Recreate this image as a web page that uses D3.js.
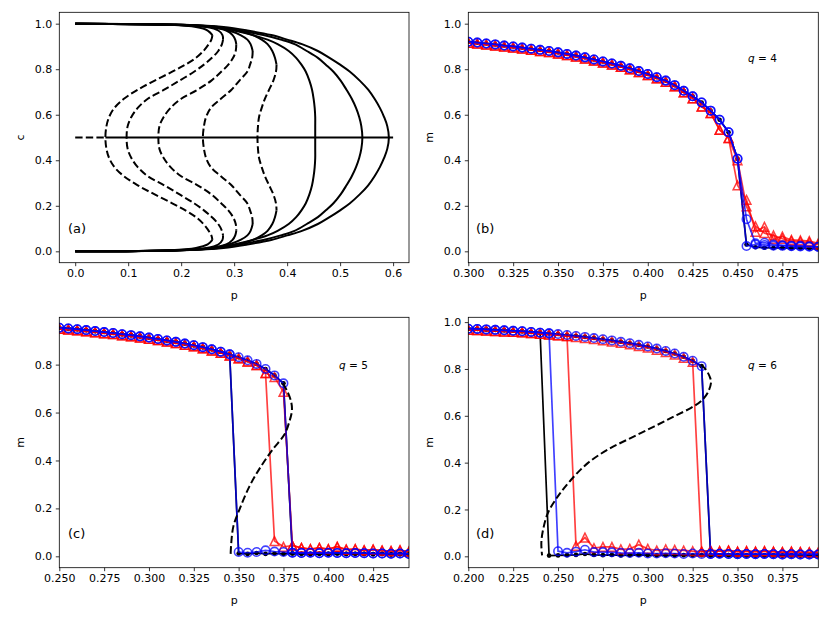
<!DOCTYPE html>
<head>
<meta charset="utf-8">
<script src="https://d3js.org/d3.v7.min.js"></script>
<style>body { margin: 0; background: #fff; }</style>
</head>
<body>
<svg width="830" height="623" font-family="DejaVu Sans" font-size="11"></svg>
<script>

// ---------- panel (a): c vs p, one curve per q ----------
let cLevels = [1.0, 0.995, 0.985, 0.97, 0.95, 0.93, 0.91, 0.88, 0.85, 0.82, 0.79, 0.75, 0.71, 0.67, 0.63, 0.59, 0.55, 0.5,
               0.45, 0.41, 0.37, 0.33, 0.29, 0.25, 0.21, 0.18, 0.15, 0.12, 0.09, 0.07, 0.05, 0.03, 0.015, 0.005, 0.0];
let pCurve1 = [0, 0.18, 0.228, 0.25, 0.259, 0.257, 0.252, 0.242, 0.228, 0.208, 0.184, 0.150, 0.118, 0.092, 0.074, 0.064, 0.059, 0.057,
               0.059, 0.064, 0.074, 0.092, 0.118, 0.150, 0.184, 0.208, 0.228, 0.242, 0.252, 0.257, 0.259, 0.25, 0.228, 0.18, 0];
let pCurve2 = [0, 0.19, 0.248, 0.27, 0.278, 0.279, 0.277, 0.270, 0.258, 0.243, 0.225, 0.197, 0.168, 0.137, 0.118, 0.106, 0.099, 0.097,
               0.099, 0.106, 0.118, 0.137, 0.168, 0.197, 0.225, 0.243, 0.258, 0.270, 0.277, 0.279, 0.278, 0.27, 0.248, 0.19, 0];
let pCurve3 = [0, 0.19, 0.255, 0.285, 0.297, 0.302, 0.304, 0.303, 0.298, 0.289, 0.276, 0.257, 0.231, 0.200, 0.180, 0.167, 0.159, 0.157,
               0.159, 0.167, 0.180, 0.200, 0.231, 0.257, 0.276, 0.289, 0.298, 0.303, 0.304, 0.302, 0.297, 0.285, 0.255, 0.19, 0];
let pCurve4 = [0, 0.19, 0.26, 0.29, 0.312, 0.325, 0.331, 0.335, 0.334, 0.330, 0.325, 0.310, 0.295, 0.275, 0.256, 0.247, 0.243, 0.241,
               0.243, 0.247, 0.256, 0.275, 0.295, 0.310, 0.325, 0.330, 0.334, 0.335, 0.331, 0.325, 0.312, 0.29, 0.26, 0.19, 0];
let pCurve5 = [0, 0.195, 0.265, 0.305, 0.335, 0.352, 0.363, 0.372, 0.377, 0.380, 0.379, 0.374, 0.366, 0.358, 0.352, 0.347, 0.345, 0.344,
               0.345, 0.347, 0.352, 0.358, 0.366, 0.374, 0.379, 0.380, 0.377, 0.372, 0.363, 0.352, 0.335, 0.305, 0.265, 0.195, 0];
let pCurve6 = [0, 0.2, 0.265, 0.30, 0.335, 0.363, 0.382, 0.403, 0.417, 0.427, 0.435, 0.442, 0.447, 0.450, 0.452, 0.453, 0.453, 0.453,
               0.453, 0.453, 0.452, 0.450, 0.447, 0.442, 0.435, 0.427, 0.417, 0.403, 0.382, 0.363, 0.335, 0.30, 0.265, 0.2, 0];
let pCurve7 = [0, 0.2, 0.27, 0.31, 0.355, 0.388, 0.414, 0.437, 0.458, 0.473, 0.487, 0.501, 0.512, 0.522, 0.530, 0.536, 0.540, 0.542,
               0.540, 0.536, 0.530, 0.522, 0.512, 0.501, 0.487, 0.473, 0.458, 0.437, 0.414, 0.388, 0.355, 0.31, 0.27, 0.2, 0];
let pCurve8 = [0, 0.205, 0.28, 0.325, 0.37, 0.40, 0.428, 0.458, 0.48, 0.50, 0.518, 0.537, 0.553, 0.565, 0.575, 0.583, 0.589, 0.592,
               0.589, 0.583, 0.575, 0.565, 0.553, 0.537, 0.518, 0.50, 0.48, 0.458, 0.428, 0.40, 0.37, 0.325, 0.28, 0.205, 0];
let disorderP = [0, 0.057, 0.6];   // c = 1/2 line: unstable up to 0.057, stable after
let disorderC = 0.5;

let xTicksA = [0, 0.1, 0.2, 0.3, 0.4, 0.5, 0.6];
let yTicksA = [0, 0.2, 0.4, 0.6, 0.8, 1.0];

// ---------- panel (b): q = 4 ----------
let pUpB = [0.300, 0.305, 0.310, 0.315, 0.320, 0.325, 0.330, 0.335, 0.340, 0.345, 0.350, 0.355, 0.360, 0.365, 0.370, 0.375,
            0.380, 0.385, 0.390, 0.395, 0.400, 0.405, 0.410, 0.415, 0.420, 0.425, 0.430, 0.435, 0.440, 0.445, 0.450];
let upperB = [0.921, 0.917, 0.913, 0.909, 0.904, 0.900, 0.895, 0.890, 0.885, 0.880, 0.874, 0.867, 0.860, 0.852, 0.843, 0.834,
              0.825, 0.815, 0.804, 0.792, 0.779, 0.765, 0.750, 0.730, 0.705, 0.681, 0.654, 0.618, 0.578, 0.523, 0.407];
let upperRedB = [0.916, 0.912, 0.908, 0.904, 0.899, 0.895, 0.890, 0.885, 0.880, 0.875, 0.869, 0.862, 0.855, 0.847, 0.838, 0.829,
                 0.820, 0.810, 0.799, 0.787, 0.774, 0.760, 0.745, 0.725, 0.698, 0.672, 0.636, 0.607, 0.534, 0.497, null];
let pLowB = [0.450, 0.455, 0.460, 0.465, 0.470, 0.475, 0.480, 0.485, 0.490, 0.495];
let lowBlackB = [null, 0.03, 0.018, 0.016, 0.015, 0.015, 0.014, 0.014, 0.013, 0.012];
let lowBlue1B = [null, 0.141, 0.035, 0.038, 0.03, 0.027, 0.025, 0.024, 0.022, 0.02];
let lowBlue2B = [null, 0.023, 0.03, 0.028, 0.025, 0.024, 0.022, 0.021, 0.02, 0.019];
let lowRed1B = [0.29, 0.226, 0.086, 0.108, 0.055, 0.065, 0.05, 0.048, 0.045, 0.035];
let lowRed2B = [0.40, 0.197, 0.11, 0.08, 0.07, 0.055, 0.045, 0.042, 0.038, 0.03];

let xTicksB = [0.300, 0.325, 0.350, 0.375, 0.400, 0.425, 0.450, 0.475];
let yTicksB = [0, 0.2, 0.4, 0.6, 0.8, 1.0];

// ---------- panel (c): q = 5 ----------
let pUpC = [0.250, 0.255, 0.260, 0.265, 0.270, 0.275, 0.280, 0.285, 0.290, 0.295, 0.300, 0.305, 0.310,
            0.315, 0.320, 0.325, 0.330, 0.335, 0.340, 0.345, 0.350, 0.355, 0.360, 0.365, 0.370, 0.375];
let upperC = [0.954, 0.951, 0.948, 0.944, 0.940, 0.936, 0.932, 0.927, 0.923, 0.918, 0.913, 0.907, 0.901,
              0.895, 0.888, 0.881, 0.873, 0.864, 0.854, 0.843, 0.831, 0.818, 0.803, 0.782, 0.755, 0.722];
let upperRedC = [0.949, 0.946, 0.943, 0.939, 0.935, 0.931, 0.927, 0.922, 0.918, 0.913, 0.908, 0.902, 0.896,
                 0.890, 0.883, 0.876, 0.868, 0.859, 0.849, 0.838, 0.826, 0.813, 0.798, 0.765, 0.748, 0.686];
let pLowC = [0.350, 0.355, 0.360, 0.365, 0.370, 0.375, 0.380, 0.385, 0.390, 0.395,
             0.400, 0.405, 0.410, 0.415, 0.420, 0.425, 0.430, 0.435, 0.440, 0.445];
let lowBlackC = [0.012, 0.01, 0.014, 0.01, 0.012, 0.01, 0.012, 0.011, 0.01, 0.011,
                 0.01, 0.012, 0.01, 0.011, 0.01, 0.009, 0.01, 0.008, 0.009, 0.008];
let lowBlueC = [0.018, 0.015, 0.018, 0.025, 0.02, 0.018, 0.015, 0.014, 0.015, 0.013,
                0.015, 0.014, 0.013, 0.014, 0.013, 0.012, 0.012, 0.011, 0.012, 0.01];
let lowRedC = [null, null, null, null, 0.064, 0.04, 0.045, 0.035, 0.03, 0.035,
               0.03, 0.04, 0.028, 0.03, 0.025, 0.028, 0.024, 0.022, 0.025, 0.02];
let pTheoryC = [0.3747, 0.3775, 0.3794, 0.3797, 0.3784, 0.3756, 0.3691, 0.3626, 0.3561, 0.3505, 0.3471, 0.3459, 0.3455];
let mTheoryC = [0.722, 0.683, 0.641, 0.607, 0.565, 0.509, 0.447, 0.377, 0.293, 0.196, 0.126, 0.057, 0.0];

let xTicksC = [0.250, 0.275, 0.300, 0.325, 0.350, 0.375, 0.400, 0.425];
let yTicksC = [0, 0.2, 0.4, 0.6, 0.8];

// ---------- panel (d): q = 6 ----------
let pUpD = [0.200, 0.205, 0.210, 0.215, 0.220, 0.225, 0.230, 0.235, 0.240, 0.245, 0.250, 0.255, 0.260, 0.265,
            0.270, 0.275, 0.280, 0.285, 0.290, 0.295, 0.300, 0.305, 0.310, 0.315, 0.320, 0.325, 0.330];
let upperD = [0.972, 0.971, 0.969, 0.967, 0.965, 0.963, 0.961, 0.958, 0.955, 0.952, 0.949, 0.945, 0.941, 0.937,
              0.932, 0.927, 0.922, 0.916, 0.910, 0.903, 0.896, 0.887, 0.877, 0.866, 0.852, 0.835, 0.812];
let upperRedD = [0.967, 0.966, 0.964, 0.962, 0.960, 0.958, 0.956, 0.953, 0.950, 0.947, 0.944, 0.940, 0.936, 0.932,
                 0.927, 0.922, 0.917, 0.911, 0.905, 0.898, 0.891, 0.882, 0.872, 0.861, 0.847, 0.830, null];
let pLowD = [0.245, 0.250, 0.255, 0.260, 0.265, 0.270, 0.275, 0.280, 0.285, 0.290, 0.295, 0.300, 0.305, 0.310, 0.315, 0.320,
             0.325, 0.330, 0.335, 0.340, 0.345, 0.350, 0.355, 0.360, 0.365, 0.370, 0.375, 0.380, 0.385, 0.390, 0.395];
let lowBlackD = [0.003, 0.004, 0.005, 0.006, 0.01, 0.006, 0.005, 0.006, 0.004, 0.005, 0.006, 0.005, 0.004, 0.005, 0.004, 0.005,
                 0.004, 0.005, 0.004, 0.004, 0.005, 0.004, 0.004, 0.003, 0.004, 0.004, 0.003, 0.004, 0.003, 0.003, 0.003];
let lowBlueD = [null, 0.022, 0.015, 0.02, 0.028, 0.018, 0.018, 0.017, 0.015, 0.014, 0.015, 0.012, 0.012, 0.013, 0.012, 0.01,
                0.012, 0.01, 0.01, 0.011, 0.01, 0.009, 0.01, 0.009, 0.01, 0.009, 0.008, 0.009, 0.008, 0.008, 0.008];
let lowRedD = [null, null, null, 0.045, 0.08, 0.035, 0.04, 0.04, 0.03, 0.032, 0.05, 0.032, 0.025, 0.03, 0.028, 0.025,
               0.022, 0.02, 0.025, 0.022, 0.025, 0.02, 0.022, 0.02, 0.022, 0.02, 0.018, 0.02, 0.018, 0.017, 0.016];
let pTheoryD = [0.3296, 0.3324, 0.3348, 0.3352, 0.3333, 0.3296, 0.3241, 0.3148, 0.3037, 0.2907, 0.2778, 0.2667,
                0.2574, 0.25, 0.2444, 0.2417, 0.2407, 0.2411];
let mTheoryD = [0.818, 0.797, 0.761, 0.74, 0.697, 0.662, 0.634, 0.598, 0.555, 0.506, 0.456, 0.399,
                0.328, 0.257, 0.186, 0.115, 0.058, 0.004];

let xTicksD = [0.200, 0.225, 0.250, 0.275, 0.300, 0.325, 0.350, 0.375];
let yTicksD = [0, 0.2, 0.4, 0.6, 0.8, 1.0];


let svg = d3.select("svg");
let clipCount = 0;

function makePanel(box, xDom, yDom, xTicks, yTicks, xFmt, xLab, yLab) {
  let x = d3.scaleLinear().domain(xDom).range([box.l, box.r]);
  let y = d3.scaleLinear().domain(yDom).range([box.b, box.t]);
  let g = svg.append("g");
  let id = "clip" + (clipCount++);
  g.append("clipPath").attr("id", id).append("rect")
      .attr("x", box.l).attr("y", box.t).attr("width", box.r - box.l).attr("height", box.b - box.t);
  let plot = g.append("g").attr("clip-path", "url(#" + id + ")");

  let xa = g.append("g").attr("transform", "translate(0," + box.b + ")")
      .call(d3.axisBottom(x).tickValues(xTicks).tickFormat(d3.format(xFmt)).tickSize(3.5).tickPadding(3.5));
  let ya = g.append("g").attr("transform", "translate(" + box.l + ",0)")
      .call(d3.axisLeft(y).tickValues(yTicks).tickFormat(d3.format(".1f")).tickSize(3.5).tickPadding(3.5));
  [xa, ya].forEach(function(a) {
    a.attr("font-size", 11).attr("font-family", null);
    a.select(".domain").remove();
    a.selectAll(".tick line").attr("stroke-width", 0.8);
    a.selectAll(".tick text").attr("fill", "#000");
  });

  g.append("rect")
      .attr("x", box.l).attr("y", box.t).attr("width", box.r - box.l).attr("height", box.b - box.t)
      .attr("fill", "none").attr("stroke", "#000").attr("stroke-width", 0.8);

  g.append("text").attr("x", (box.l + box.r) / 2).attr("y", box.b + 36)
      .attr("text-anchor", "middle").text(xLab);
  g.append("text").attr("transform", "translate(" + (box.l - 35) + "," + ((box.t + box.b) / 2) + ")rotate(-90)")
      .attr("text-anchor", "middle").text(yLab);
  return {x: x, y: y, plot: plot, g: g, box: box};
}

function sweep(pUp, up, pLow, low, jump) {
  let pts = [];
  pUp.forEach(function(p, i) { if (p <= jump + 1e-9 && up[i] != null) pts.push([p, up[i]]); });
  pLow.forEach(function(p, i) { if (p > jump + 1e-9 && low[i] != null) pts.push([p, low[i]]); });
  return pts;
}

function drawSeries(P, pts, kind) {
  let line = d3.line().x(function(d) { return P.x(d[0]); }).y(function(d) { return P.y(d[1]); });
  let col = kind === "black" ? "#000" : (kind === "red" ? "#ff0000" : "#0000ff");
  let op = kind === "black" ? 1 : 0.75;
  let s = P.plot.append("g");
  s.append("path").attr("d", line(pts)).attr("fill", "none")
      .attr("stroke", col).attr("stroke-opacity", op).attr("stroke-width", 1.7);
  let m = s.selectAll(null).data(pts).enter();
  if (kind === "black") {
    m.append("circle").attr("cx", function(d) { return P.x(d[0]); }).attr("cy", function(d) { return P.y(d[1]); })
        .attr("r", 2.3).attr("fill", "#000");
  } else if (kind === "red") {
    m.append("path").attr("d", "M0,-4.4L-4.4,4.4L4.4,4.4Z")
        .attr("transform", function(d) { return "translate(" + P.x(d[0]) + "," + P.y(d[1]) + ")"; })
        .attr("fill", "none").attr("stroke", col).attr("stroke-opacity", op).attr("stroke-width", 1.5);
  } else {
    m.append("circle").attr("cx", function(d) { return P.x(d[0]); }).attr("cy", function(d) { return P.y(d[1]); })
        .attr("r", 4.2).attr("fill", "none").attr("stroke", col).attr("stroke-opacity", op).attr("stroke-width", 1.6);
  }
}

function drawTheory(P, ps, ms) {
  let line = d3.line().curve(d3.curveCatmullRom.alpha(0.5))
      .x(function(d) { return P.x(d[0]); }).y(function(d) { return P.y(d[1]); });
  P.plot.append("path").attr("d", line(ps.map(function(p, i) { return [p, ms[i]]; })))
      .attr("fill", "none").attr("stroke", "#000").attr("stroke-width", 2).attr("stroke-dasharray", "7.4,3.2");
}

function panelLabel(P, x, y, t) {
  P.g.append("text").attr("x", x).attr("y", y).attr("font-size", 13).text(t);
}
function qLabel(P, x, y, q) {
  let t = P.g.append("text").attr("x", x).attr("y", y).attr("font-size", 10.5);
  t.append("tspan").attr("font-style", "italic").text("q");
  t.append("tspan").text(" = " + q);
}

// ---------- (a) ----------
let A = makePanel({l: 59.3, r: 409, t: 12.3, b: 262.7}, [-0.03, 0.63], [-0.05, 1.05], xTicksA, yTicksA, ".1f", "p", "c");
let lineA = d3.line().curve(d3.curveCatmullRom.alpha(0.5))
    .x(function(d) { return A.x(d[0]); }).y(function(d) { return A.y(d[1]); });

[pCurve1, pCurve2, pCurve3, pCurve4, pCurve5, pCurve6, pCurve7, pCurve8].forEach(function(ps) {
  let pts = ps.map(function(p, i) { return [p, cLevels[i]]; });
  let mid = (ps.length - 1) / 2;
  let iMax = d3.maxIndex(ps.slice(0, mid + 1));
  let parts = [];
  if (ps[iMax] > ps[mid]) {
    // unstable stretch between the two turning points is dashed
    let jMax = ps.length - 1 - iMax;
    parts.push([pts.slice(0, iMax + 1), false]);
    parts.push([pts.slice(iMax, jMax + 1), true]);
    parts.push([pts.slice(jMax), false]);
  } else {
    parts.push([pts, false]);
  }
  parts.forEach(function(pr) {
    A.plot.append("path").attr("d", lineA(pr[0])).attr("fill", "none")
        .attr("stroke", "#000").attr("stroke-width", 2)
        .attr("stroke-dasharray", pr[1] ? "7.4,3.2" : null);
  });
});
A.plot.append("path").attr("d", d3.line()([[A.x(disorderP[0]), A.y(disorderC)], [A.x(disorderP[1]), A.y(disorderC)]]))
    .attr("stroke", "#000").attr("stroke-width", 2).attr("stroke-dasharray", "7.4,3.2");
A.plot.append("path").attr("d", d3.line()([[A.x(disorderP[1]), A.y(disorderC)], [A.x(disorderP[2]), A.y(disorderC)]]))
    .attr("stroke", "#000").attr("stroke-width", 2);
panelLabel(A, 68, 233, "(a)");

// ---------- (b) ----------
let B = makePanel({l: 468.3, r: 818.3, t: 12.3, b: 262.7}, [0.3, 0.495], [-0.05, 1.05], xTicksB, yTicksB, ".3f", "p", "m");
drawSeries(B, sweep(pUpB, upperB, pLowB, lowBlackB, 0.450), "black");
drawSeries(B, sweep(pUpB, upperRedB, pLowB, lowRed1B, 0.445), "red");
drawSeries(B, sweep(pUpB, upperRedB, pLowB, lowRed2B, 0.445), "red");
drawSeries(B, sweep(pUpB, upperB, pLowB, lowBlue1B, 0.450), "blue");
drawSeries(B, sweep(pUpB, upperB, pLowB, lowBlue2B, 0.450), "blue");
panelLabel(B, 476, 233, "(b)");
qLabel(B, 748, 62, 4);

// ---------- (c) ----------
let C = makePanel({l: 59.3, r: 409, t: 317.3, b: 567.7}, [0.25, 0.445], [-0.0475, 0.9975], xTicksC, yTicksC, ".3f", "p", "m");
drawSeries(C, sweep(pUpC, upperC, pLowC, lowBlackC, 0.375), "black");
drawSeries(C, sweep(pUpC, upperC, pLowC, lowBlackC, 0.345), "black");
drawSeries(C, sweep(pUpC, upperRedC, pLowC, lowRedC, 0.365), "red");
drawSeries(C, sweep(pUpC, upperRedC, pLowC, lowRedC, 0.375), "red");
drawSeries(C, sweep(pUpC, upperC, pLowC, lowBlueC, 0.375), "blue");
drawSeries(C, sweep(pUpC, upperC, pLowC, lowBlueC, 0.345), "blue");
drawTheory(C, pTheoryC, mTheoryC);
panelLabel(C, 68, 538, "(c)");
qLabel(C, 339, 369, 5);

// ---------- (d) ----------
let D = makePanel({l: 468.3, r: 818.3, t: 317.3, b: 567.7}, [0.2, 0.395], [-0.0486, 1.0206], xTicksD, yTicksD, ".3f", "p", "m");
drawSeries(D, sweep(pUpD, upperD, pLowD, lowBlackD, 0.330), "black");
drawSeries(D, sweep(pUpD, upperD, pLowD, lowBlackD, 0.240), "black");
drawSeries(D, sweep(pUpD, upperRedD, pLowD, lowRedD, 0.325), "red");
drawSeries(D, sweep(pUpD, upperRedD, pLowD, lowRedD, 0.255), "red");
drawSeries(D, sweep(pUpD, upperD, pLowD, lowBlueD, 0.330), "blue");
drawSeries(D, sweep(pUpD, upperD, pLowD, lowBlueD, 0.245), "blue");
drawTheory(D, pTheoryD, mTheoryD);
panelLabel(D, 476, 538, "(d)");
qLabel(D, 748, 369, 6);

</script>
</body>
